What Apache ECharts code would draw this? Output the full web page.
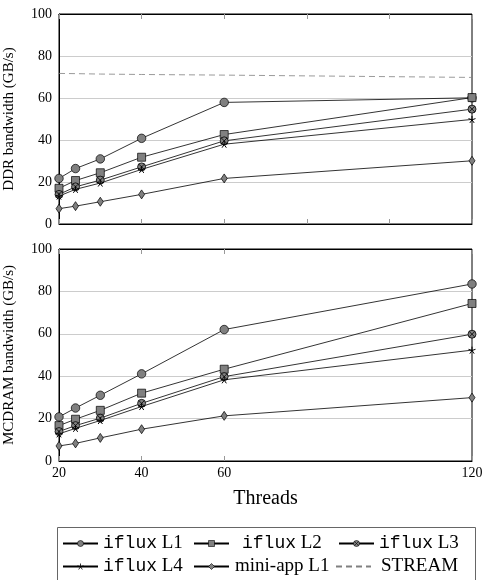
<!DOCTYPE html>
<html><head><meta charset="utf-8">
<script src="https://cdn.jsdelivr.net/npm/echarts@6/dist/echarts.min.js"></script>
<style>html,body{margin:0;padding:0;background:#fff}#c{width:486px;height:580px}</style>
</head><body><div id="c"></div>
<script>
// ---- data ----
const threads = [20, 24, 30, 40, 60, 120];
const ddrL1   = [21.7, 26.4, 31.0, 40.8, 57.9, 60.1];
const ddrL2   = [17.0, 20.7, 24.4, 31.8, 42.6, 60.2];
const ddrL3   = [14.1, 17.7, 20.9, 27.2, 39.6, 54.7];
const ddrL4   = [13.3, 16.5, 19.5, 26.0, 38.0, 49.8];
const ddrMini = [7.3, 8.5, 10.6, 14.1, 21.7, 30.1];
const ddrStream = [71.7, 71.6, 71.4, 71.2, 70.9, 69.8];
const mcL1   = [20.8, 25.0, 31.0, 41.1, 62.0, 83.5];
const mcL2   = [16.7, 19.7, 23.9, 32.0, 43.3, 74.3];
const mcL3   = [13.9, 16.7, 20.2, 27.2, 39.8, 59.8];
const mcL4   = [12.8, 15.4, 19.1, 25.7, 38.3, 52.3];
const mcMini = [7.1, 8.3, 10.9, 15.0, 21.3, 29.9];
const yTicks = [0, 20, 40, 60, 80, 100];
const xLabelsBottom = [20, 40, 60, 120];
const names = ['iflux L1', 'iflux L2', 'iflux L3', 'iflux L4', 'mini-app L1', 'STREAM'];

// ---- styling ----
const SERIF = 'Liberation Serif';
const MONO = 'Liberation Mono';
const FILL = '#808080';
const otimes = 'path://M0,-10 A10,10 0 1,1 0,10 A10,10 0 1,1 0,-10 Z M-7,-7 L7,7 M7,-7 L-7,7';
const star = 'path://M0,-10 L0,0 M9.51,-3.09 L0,0 M5.88,8.09 L0,0 M-5.88,8.09 L0,0 M-9.51,-3.09 L0,0';
const markers = [
  {symbol: 'circle', symbolSize: 8.5, itemStyle: {color: FILL, borderColor: '#000', borderWidth: 0.7}},
  {symbol: 'rect', symbolSize: 8, itemStyle: {color: FILL, borderColor: '#000', borderWidth: 0.7}},
  {symbol: otimes, symbolSize: 8, itemStyle: {color: FILL, borderColor: '#000', borderWidth: 0.8}},
  {symbol: star, symbolSize: 7, itemStyle: {color: '#000', borderColor: '#000', borderWidth: 1}},
  {symbol: 'diamond', symbolSize: [6, 9], itemStyle: {color: FILL, borderColor: '#000', borderWidth: 0.7}}
];
const zip = ys => threads.map((x, i) => [x, ys[i]]);

function mkSeries(sets, xi, yi) {
  return sets.map((ys, k) => Object.assign({
    type: 'line', name: names[k], xAxisIndex: xi, yAxisIndex: yi,
    data: zip(ys), showAllSymbol: true,
    lineStyle: {color: '#000', width: 0.8}
  }, markers[k]));
}

const series = [
  ...mkSeries([ddrL1, ddrL2, ddrL3, ddrL4, ddrMini], 0, 0),
  {type: 'line', name: 'STREAM', xAxisIndex: 0, yAxisIndex: 0, data: zip(ddrStream),
   symbol: 'none', lineStyle: {color: '#808080', width: 0.8, type: [6, 4]},
   itemStyle: {color: '#808080'}},
  ...mkSeries([mcL1, mcL2, mcL3, mcL4, mcMini], 2, 1)
];

const tickStyle = {show: true, inside: true, length: 5, lineStyle: {color: '#999', width: 1}};
function xAx(gi, pos, showLabels, ticks) {
  const ax = {
    type: 'value', gridIndex: gi, position: pos, min: 20, max: 120, interval: 20,
    axisLine: {show: true, lineStyle: {color: '#000', width: 1}},
    splitLine: {show: false},
    axisTick: Object.assign({}, tickStyle),
    axisLabel: {show: showLabels, color: '#000', fontFamily: SERIF, fontSize: 14, margin: 5}
  };
  if (ticks) {
    ax.axisTick.customValues = ticks;
    ax.axisLabel.customValues = ticks;
  }
  return ax;
}
function yAx(gi, name) {
  return {
    type: 'value', gridIndex: gi, min: yTicks[0], max: yTicks[yTicks.length - 1], interval: 20,
    name: name, nameLocation: 'middle', nameRotate: 90, nameGap: 42,
    nameTextStyle: {color: '#000', fontFamily: SERIF, fontSize: 15},
    axisLine: {show: true, lineStyle: {color: '#000', width: 1}},
    axisTick: {show: false},
    splitLine: {show: true, lineStyle: {color: '#cccccc', width: 1}},
    axisLabel: {color: '#000', fontFamily: SERIF, fontSize: 14, margin: 7}
  };
}

function leg(idx, left, top, padL) {
  const name = names[idx];
  const isFlux = name.startsWith('iflux');
  const fmt = isFlux ? '{m|iflux}{s| ' + name.slice(6) + '}' : '{s|' + name + '}';
  const rich = {
    m: {fontFamily: MONO, fontSize: 18, color: '#000', padding: [0, 0, 0, isFlux ? padL : 0]},
    s: {fontFamily: SERIF, fontSize: 19, color: '#000', padding: [0, 0, 0, isFlux ? 0 : padL]}
  };
  let itemStyle;
  if (idx === 5) itemStyle = {color: 'rgba(0,0,0,0)', borderColor: 'rgba(0,0,0,0)', borderWidth: 0, opacity: 0};
  else if (idx === 3) itemStyle = {color: '#000', borderColor: '#000', borderWidth: 0.8};
  else itemStyle = {color: FILL, borderColor: '#000', borderWidth: 0.6};
  return {
    data: [name], left: left, top: top, padding: 0, itemWidth: 35, itemHeight: 7.5,
    selectedMode: false, formatter: () => fmt, textStyle: {rich: rich},
    itemStyle: itemStyle
  };
}

const gridBase = {left: 59, right: 14, show: true, borderColor: '#000', borderWidth: 1,
                  containLabel: false, outerBoundsMode: 'none'};
const chart = echarts.init(document.getElementById('c'), null, {renderer: 'canvas'});
chart.setOption({
  animation: false,
  backgroundColor: '#fff',
  grid: [
    Object.assign({top: 14, height: 210}, gridBase),
    Object.assign({top: 249, height: 212}, gridBase)
  ],
  xAxis: [
    xAx(0, 'bottom', false, null),
    xAx(0, 'top', false, null),
    Object.assign(xAx(1, 'bottom', true, xLabelsBottom), {
      name: 'Threads', nameLocation: 'middle', nameGap: 28,
      nameTextStyle: {color: '#000', fontFamily: SERIF, fontSize: 20}
    }),
    xAx(1, 'top', false, xLabelsBottom)
  ],
  yAxis: [yAx(0, 'DDR bandwidth (GB/s)'), yAx(1, 'MCDRAM bandwidth (GB/s)')],
  legend: [
    leg(0, 62, 534, 0),
    leg(1, 193, 534, 8),
    leg(2, 338, 534, 0),
    leg(3, 62, 557, 0),
    leg(4, 193, 557, 1),
    leg(5, 335, 557, 5)
  ],
  graphic: [{
    type: 'rect', left: 55, top: 525, silent: true,
    shape: {width: 418, height: 70},
    style: {fill: 'none', stroke: '#666', lineWidth: 1}
  }],
  series: series
});
</script>
</body></html>
